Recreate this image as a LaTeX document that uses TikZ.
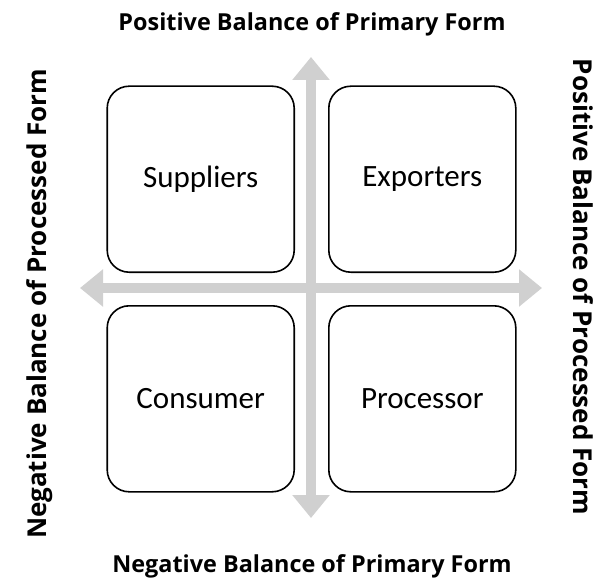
\documentclass[tikz,border=0pt]{standalone}
\usepackage{fontspec}
\setmainfont{Carlito}
\newfontfamily\headfont{Open Sans}
\usetikzlibrary{arrows.meta, positioning}

\begin{document}
\begin{tikzpicture}[x=1pt, y=-1pt,
  quad/.style={draw, line width=1.6pt, rounded corners=22pt, minimum width=187pt, minimum height=186pt, font=\fontsize{31}{36}\selectfont},
  axis/.style={line width=10pt, draw={rgb,255:red,208;green,208;blue,208}, {Triangle[width=36pt,length=23pt]}-{Triangle[width=36pt,length=23pt]}},
  heading/.style={font=\headfont\bfseries\fontsize{23.4}{28}\selectfont},
  sidehead/.style={font=\headfont\bfseries\fontsize{26}{30}\selectfont}]
\useasboundingbox (0,0) rectangle (610,588);
\coordinate (centre) at (311,288);
\coordinate (top) at (311,57);
\coordinate (bottom) at (311,518);
\coordinate (left) at (80,288);
\coordinate (right) at (542,288);
% the two axes
\draw[axis] (bottom) -- (top);
\draw[axis] (left) -- (right);
% the four quadrants
\node[quad, anchor=south east] (suppliers) at (295,273) {Suppliers};
\node[quad, right=33pt of suppliers] (exporters) {Exporters};
\node[quad, below=32pt of suppliers] (consumer) {Consumer};
\node[quad, right=33pt of consumer] (processor) {Processor};
% axis titles
\node[heading] (primpos) at (312,24) {Positive Balance of Primary Form};
\node[heading] (primneg) at (312,566) {Negative Balance of Primary Form};
\node[sidehead, rotate=90] (procneg) at (40,304) {Negative Balance of Processed Form};
\node[sidehead, rotate=-90] (procpos) at (583,287) {Positive Balance of Processed Form};
\end{tikzpicture}
\end{document}
